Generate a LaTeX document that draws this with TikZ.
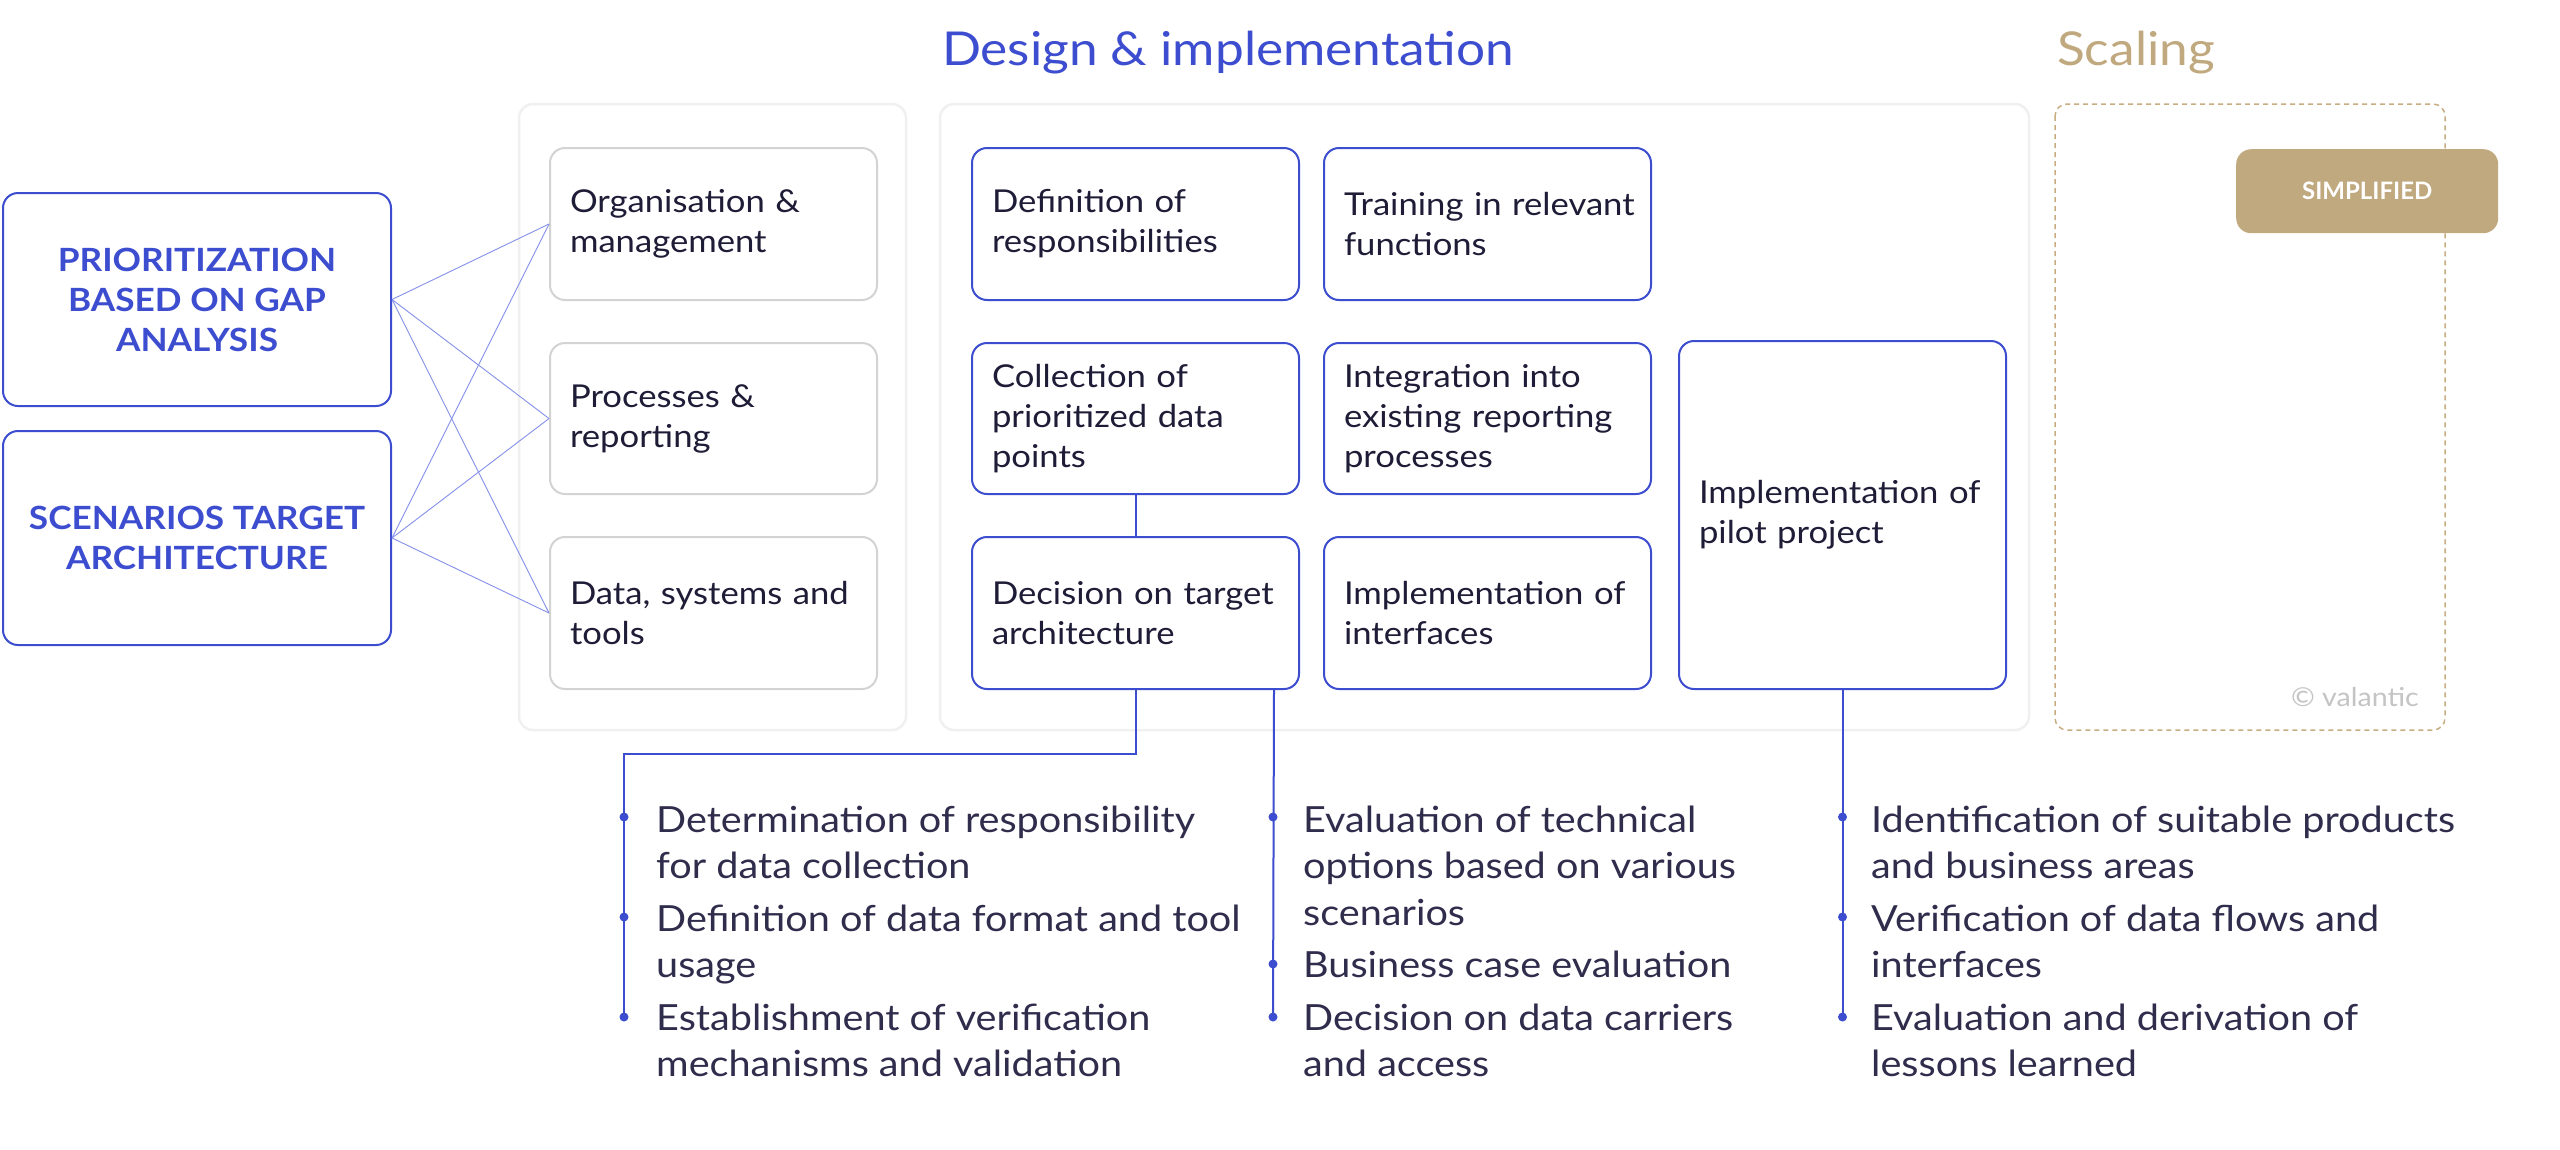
\documentclass[tikz,border=0pt]{standalone}
\usepackage{fontspec}
\setmainfont{Lato}[FakeStretch=1.1]
\newfontfamily\plainfont{Lato}
\usetikzlibrary{calc}
\definecolor{vblue}{HTML}{3D4DCF}
\definecolor{vline}{HTML}{8590EA}
\definecolor{vtext}{HTML}{1E1C36}
\definecolor{vbul}{HTML}{2F2C4C}
\definecolor{vgrey}{HTML}{D3D3D3}
\definecolor{vpanel}{HTML}{F0F0F0}
\definecolor{vtan}{HTML}{C1A97F}
\definecolor{vdash}{HTML}{C8AD82}
\definecolor{vcopy}{HTML}{C4C4C4}
\begin{document}
\begin{tikzpicture}[x=1pt,y=-1pt,
  panel/.style={draw=vpanel, line width=2.5pt, fill=white, rounded corners=14pt},
  itembox/.style={rectangle, rounded corners=15pt, line width=2pt, minimum width=327pt, minimum height=152pt, text width=287pt, inner xsep=20pt, inner ysep=0pt, align=left, font=\fontsize{31.5}{40}\selectfont, text=vtext, anchor=north west},
  greybox/.style={itembox, draw=vgrey},
  bluebox/.style={itembox, draw=vblue},
  leftbox/.style={rectangle, draw=vblue, rounded corners=15pt, line width=2pt, minimum width=388pt, minimum height=213pt, align=center, font=\fontsize{32}{40}\bfseries\selectfont, text=vblue, anchor=north west, inner sep=0pt},
  thinline/.style={draw=vline, line width=0.9pt},
  bline/.style={draw=vblue, line width=2pt},
  bdot/.style={fill=vblue},
  bullettext/.style={anchor=north west, inner sep=0pt, align=left, font=\fontsize{36}{46.7}\selectfont, text=vbul},
  title/.style={anchor=base, font=\fontsize{46.7}{56}\selectfont}
]
\useasboundingbox (0,0) rectangle (2560,1149);
\fill[white] (0,0) rectangle (2560,1149);

% titles
\node[title, text=vblue] (t1) at (1228,65) {Design \& implementation};
\node[title, text=vtan] (t2) at (2136,65) {Scaling};

% panels
\draw[panel] (519,104) rectangle (906,730);
\draw[panel] (940,104) rectangle (2029,730);
\draw[vdash, dash pattern=on 5pt off 4pt, line width=1.5pt, rounded corners=12pt] (2055,104) rectangle (2445,730);

% left boxes
\node[leftbox] (prio) at (2,192) {PRIORITIZATION\\BASED ON GAP\\ANALYSIS};
\node[leftbox, minimum height=214pt] (scen) at (2,430) {SCENARIOS TARGET\\ARCHITECTURE};

% column 1
\node[greybox] (om) at (549,147) {Organisation \&\\management};
\node[greybox, minimum height=151pt] (pr) at (549,342) {Processes \&\\reporting};
\node[greybox] (ds) at (549,536) {Data, systems and\\tools};

% column 2
\node[bluebox] (def) at (971,147) {Definition of\\responsibilities};
\node[bluebox, minimum height=151pt] (col) at (971,342) {Collection of\\prioritized data\\points};
\node[bluebox] (dec) at (971,536) {Decision on target\\architecture};

% column 3
\node[bluebox] (tra) at (1323,147) {\mbox{Training in relevant}\\functions};
\node[bluebox, minimum height=151pt] (int) at (1323,342) {Integration into\\existing reporting\\processes};
\node[bluebox] (imp) at (1323,536) {Implementation of\\interfaces};

% pilot
\node[bluebox, minimum height=348pt] (pil) at (1678,340) {Implementation of\\pilot project};

% badge and copyright
\node[fill=vtan, rounded corners=15pt, minimum width=262pt, minimum height=84pt, text=white, font=\plainfont\fontsize{24}{30}\bfseries\selectfont, anchor=north west, inner sep=0pt] (simp) at (2236,149) {SIMPLIFIED};
\node[text=vcopy, font=\fontsize{26}{32}\selectfont, anchor=east, inner sep=0pt] (copy) at (2419,697) {© valantic};

% thin connectors
\foreach \s in {prio,scen}{
  \foreach \t in {om,pr,ds}{
    \draw[thinline] (\s.east) -- (\t.west);
  }
}

% collection - decision
\draw[bline] (col.south) -- (dec.north);

% bullet lines
\coordinate (acorner) at (624,754);
\coordinate (aend) at (624,1017);
\draw[bline] (dec.south) |- (acorner) -- (aend);
\coordinate (bstart) at ($(dec.south east)+(-26,0)$);
\coordinate (bend) at (1273,1017);
\draw[bline] (bstart) -- (bend);
\coordinate (cend) at (pil.south |- aend);
\draw[bline] (pil.south) -- (cend);

\foreach \y in {817,917,1017}{ \fill[bdot] (624,\y) circle (4.5pt); }
\foreach \y in {817,964,1017}{ \fill[bdot] (1273,\y) circle (4.5pt); }
\foreach \y in {817,917,1017}{ \fill[bdot] (pil.south |- 0,\y) circle (4.5pt); }

% bullet texts
\node[bullettext] (a1) at (656,799.3) {\strut Determination of responsibility\\for data collection};
\node[bullettext] (a2) at (656,898.3) {\strut Definition of data format and tool\\usage};
\node[bullettext] (a3) at (656,997.3) {\strut Establishment of verification\\mechanisms and validation};

\node[bullettext] (b1) at (1303,799.3) {\strut Evaluation of technical\\options based on various\\scenarios};
\node[bullettext] (b2) at (1303,944.3) {\strut Business case evaluation};
\node[bullettext] (b3) at (1303,997.3) {\strut Decision on data carriers\\and access};

\node[bullettext] (c1) at (1871,799.3) {\strut Identification of suitable products\\and business areas};
\node[bullettext] (c2) at (1871,898.3) {\strut Verification of data flows and\\interfaces};
\node[bullettext] (c3) at (1871,997.3) {\strut Evaluation and derivation of\\lessons learned};
\end{tikzpicture}
\end{document}
